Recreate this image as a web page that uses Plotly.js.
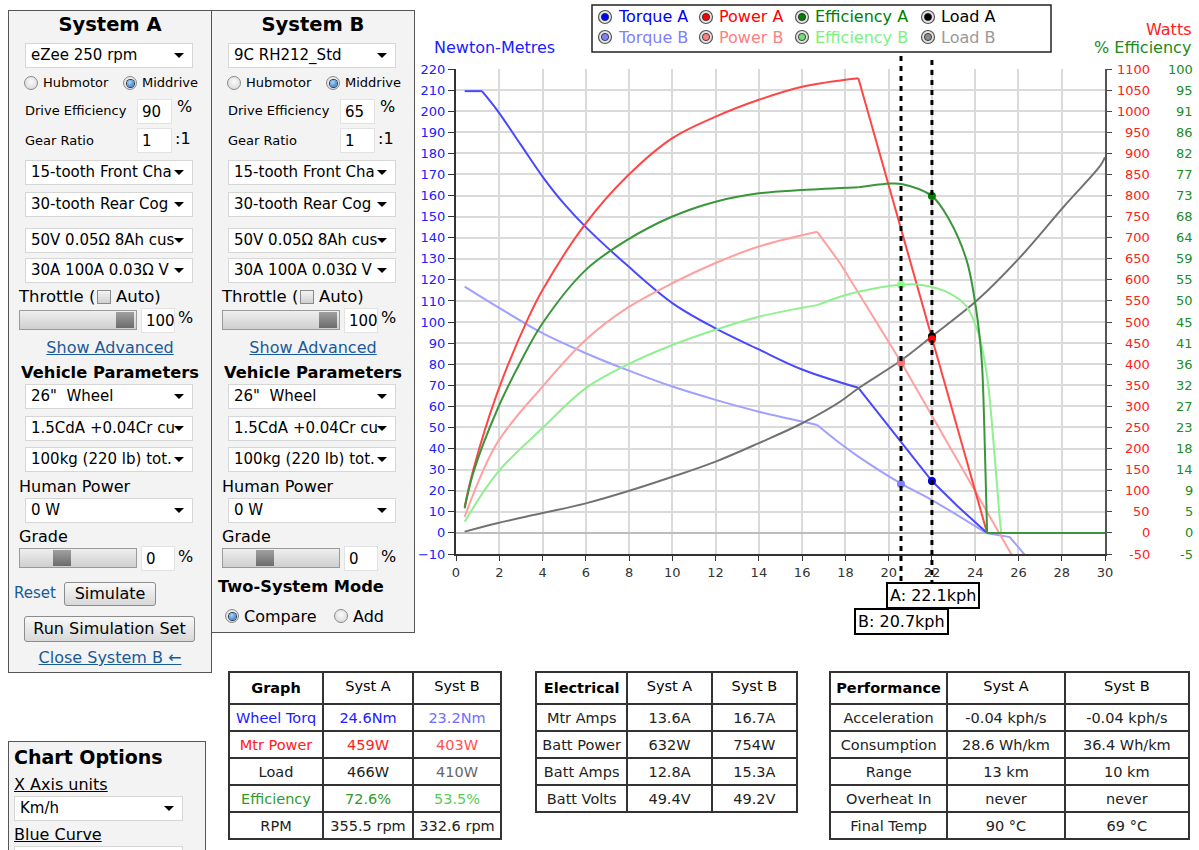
<!DOCTYPE html>
<html><head><meta charset="utf-8">
<script src="https://cdn.plot.ly/plotly-3.0.1.min.js"></script>
<style>
body{margin:0;background:#fff;font-family:'DejaVu Sans',Verdana,sans-serif;width:1199px;height:850px;overflow:hidden;position:relative;color:#000}
.t{position:absolute;white-space:nowrap;line-height:20px}
</style></head><body>
<div id="panels"></div>
<div id="chart" style="position:absolute;left:414px;top:0;width:785px;height:650px"></div>
<div id="tg" style="position:absolute;left:228px;top:671px;width:274px;height:180px"></div>
<div id="te" style="position:absolute;left:535px;top:671px;width:263px;height:150px"></div>
<div id="tp" style="position:absolute;left:829px;top:671px;width:361px;height:180px"></div>
<script>
// ---------------- DATA ----------------
const speedTorqueA=[0.4,1.2,1.9,3.0,4.0,5.0,6.0,7.9,10.0,12.0,14.0,16.0,18.6,20.5,22.0,23.2,24.55];
const torqueA=[209.5,209.5,200.5,184,169,156,145,127,109,97,87,77.5,68.8,44,24.6,12.5,0];
const speedTorqueB=[0.4,1.9,4.0,6.0,7.9,10.0,12.0,14.0,16.0,16.7,17.75,18.6,20.6,22.0,24.5,25.6,26.3];
const torqueB=[116.8,107.3,94.7,85.2,77.3,69.4,63.1,57.5,52.8,51.2,42.5,36.2,23.2,15.6,0,-2,-10.5];
const speedPowerA=[0.4,0.8,1.9,3.3,4.0,6.0,7.9,10.0,12.0,14.0,16.0,18.6,22.0,24.55];
const powerA=[62,150,331,505,576,734,845,936,987,1027,1058,1078,459,0];
const speedPowerB=[0.4,1.9,4.0,6.0,7.9,10.0,12.0,14.0,16.7,17.75,20.6,25.6,25.8];
const powerB=[38,213,347,458,533,592,640,679,714,640,403,-44,-62];
const speedEffA=[0.4,0.8,1.9,3.0,4.0,6.0,7.9,10.0,12.0,14.0,16.0,18.6,20.1,20.6,22.0,22.8,23.6,24.05,24.3,24.42,24.55,30];
const effA=[5.3,13,26.5,37,45.2,56.7,63.1,68.2,71.4,73.2,73.9,74.5,75.3,75.2,72.6,67.5,58.8,48,37.3,22.9,0,0];
const speedEffB=[0.4,1.9,4.0,6.0,7.9,10.0,12.0,14.0,16.7,17.75,18.6,20.6,21.6,22.8,23.6,24.15,24.55,24.85,25.1,25.2,30];
const effB=[2.4,12.9,22.6,31.2,36.2,40.5,43.8,46.6,49.1,50.9,52,53.5,53.4,51.7,48.8,43,33.7,19.3,5,0,0];
const speedLoad=[0.4,1.9,4.0,6.0,7.9,10.0,12.0,14.0,16.0,17.75,18.6,20.6,22.0,24.1,26.1,28.1,29.8,30];
const loadW=[3,23,47,70,98,133,169,213,260,311,343,410,466,552,655,774,872,891];

const opSpeed=[22.0,20.57];            // operating points A, B (positions on chart)
const opLabel=['A: 22.1kph','B: 20.7kph'];
const opTorque=[24.6,23.2];
const opPower=[459,403];
const opLoad=[466,410];
const opEff=[72.6,53.5];

const wattTicks=[1100,1050,1000,950,900,850,800,750,700,650,600,550,500,450,400,350,300,250,200,150,100,50,0,-50];
const effTickText=['100','95','91','86','82','77','73','68','64','59','55','50','45','41','36','32','27','23','18','14','9','5','0','-5'];

const legendNames=[['Torque A','Power A','Efficiency A','Load A'],['Torque B','Power B','Efficiency B','Load B']];

const graphHeader=['<b>Graph</b>','Syst A','Syst B'];
const graphRows=['Wheel Torq','Mtr Power','Load','Efficiency','RPM'];
const graphA=['24.6Nm','459W','466W','72.6%','355.5 rpm'];
const graphB=['23.2Nm','403W','410W','53.5%','332.6 rpm'];
const elecHeader=['<b>Electrical</b>','Syst A','Syst B'];
const elecRows=['Mtr Amps','Batt Power','Batt Amps','Batt Volts'];
const elecA=['13.6A','632W','12.8A','49.4V'];
const elecB=['16.7A','754W','15.3A','49.2V'];
const perfHeader=['<b>Performance</b>','Syst A','Syst B'];
const perfRows=['Acceleration','Consumption','Range','Overheat In','Final Temp'];
const perfA=['-0.04 kph/s','28.6 Wh/km','13 km','never','90 °C'];
const perfB=['-0.04 kph/s','36.4 Wh/km','10 km','never','69 °C'];

// ---------------- HTML side panels ----------------
const F="'DejaVu Sans', Verdana, sans-serif";
const P=document.getElementById('panels');
function box(x,y,w,h,css,html){const d=document.createElement('div');d.style.cssText='position:absolute;left:'+x+'px;top:'+y+'px;width:'+w+'px;height:'+h+'px;box-sizing:border-box;'+(css||'');if(html)d.innerHTML=html;P.appendChild(d);return d;}
function txt(x,yc,s,css,c){const d=document.createElement('div');d.className='t';d.style.cssText='top:'+(yc-10)+'px;left:'+x+'px;'+(c?'transform:translateX(-50%);':'')+(css||'');d.innerHTML=s;P.appendChild(d);return d;}
function sel(x,y,w,s){box(x,y,w,25,'background:#fff;border:1px solid #d6d6d6;','<div style="position:absolute;left:5px;top:1px;white-space:nowrap;font-size:15px;line-height:21px">'+s+'</div><div style="position:absolute;right:8px;top:9px;width:0;height:0;border-left:5px solid transparent;border-right:5px solid transparent;border-top:5px solid #000"></div>');}
function radio(cx,cy,on){box(cx-7,cy-7,14,14,'border-radius:50%;border:1px solid #8a8a8a;background:radial-gradient(circle at 50% 40%,#fbfbfb,#d2d2d2);',on?'<div style="position:absolute;left:2.5px;top:2.5px;width:7px;height:7px;border-radius:50%;background:radial-gradient(circle at 40% 35%,#a8d8ff,#1565c0);box-shadow:0 0 0 1px #2a3a4c"></div>':'');}
function input(x,y,w,s){box(x,y,w,25,'background:#fff;border:1px solid #e2e2e2;','<div style="position:absolute;left:4px;top:2px;font-size:15px;line-height:20px">'+s+'</div>');}
function slider(x,y,w,tx){box(x,y,w,20,'border:1px solid #9a9a9a;background:linear-gradient(#efefef,#cfcfcf);');box(tx,y+2,18,16,'background:linear-gradient(#a0a0a0,#6c6c6c);');}
function button(x,y,w,h,s){box(x,y,w,h,'border:1px solid #8c8c8c;border-radius:3px;background:linear-gradient(#f8f8f8,#d8d8d8);font-size:16px;line-height:'+(h-2)+'px;text-align:center;white-space:nowrap;',s);}
function checkbox(x,y){box(x,y,14,14,'border:1px solid #8a8a8a;background:linear-gradient(#f4f4f4,#d0d0d0);');}

function panel(ox,cfg){
  box(8+ox,10,204,cfg.h,'border:1px solid #555;background:#f3f3f3;');
  txt(110+ox,25,cfg.title,'font-weight:bold;font-size:19.5px',true);
  sel(25+ox,43,168,cfg.motor);
  radio(31+ox,83,false);txt(43+ox,83,'Hubmotor','font-size:13px');
  radio(130+ox,83,true);txt(142+ox,83,'Middrive','font-size:13px');
  txt(25+ox,111,'Drive Efficiency','font-size:13px');input(137+ox,99,35,cfg.eff);txt(177+ox,107,'%','font-size:16px');
  txt(25+ox,141,'Gear Ratio','font-size:13px');input(137+ox,128,35,'1');txt(175+ox,139,':1','font-size:16px');
  sel(25+ox,160,168,'15-tooth Front Cha');
  sel(25+ox,192,168,'30-tooth Rear Cog');
  sel(25+ox,228,168,'50V 0.05Ω 8Ah cus');
  sel(25+ox,258,168,'30A 100A 0.03Ω V');
  txt(19+ox,297,'Throttle (','font-size:16.5px');checkbox(97+ox,290);txt(116+ox,297,'Auto)','font-size:16.5px');
  slider(19+ox,310,118,116+ox);input(141+ox,308,34,'100');txt(178+ox,318,'%','font-size:16px');
  txt(110+ox,348,'Show Advanced','font-size:16px;color:#1a5a96;text-decoration:underline',true);
  txt(110+ox,373,'Vehicle Parameters','font-weight:bold;font-size:16.3px',true);
  sel(25+ox,384,168,'26"&nbsp; Wheel');
  sel(25+ox,416,168,'1.5CdA +0.04Cr cu');
  sel(25+ox,447,168,'100kg (220 lb) tot.');
  txt(19+ox,487,'Human Power','font-size:16px');
  sel(25+ox,498,168,'0 W');
  txt(19+ox,537,'Grade','font-size:16px');
  slider(19+ox,548,118,53+ox);input(141+ox,546,34,'0');txt(178+ox,557,'%','font-size:16px');
}
panel(0,{h:663,title:'System A',motor:'eZee 250 rpm',eff:'90'});
panel(203,{h:623,title:'System B',motor:'9C RH212_Std',eff:'65'});
txt(14,593,'Reset','font-size:15px;color:#1a5a96');
button(64,582,92,24,'Simulate');
button(24,616,171,26,'Run Simulation Set');
txt(110,658,'Close System B ←','font-size:16px;color:#1a5a96;text-decoration:underline',true);
txt(218,587,'Two-System Mode','font-weight:bold;font-size:16.3px');
radio(232,616,true);txt(244,617,'Compare','font-size:16px');
radio(341,616,false);txt(353,617,'Add','font-size:16px');
// chart options panel
box(8,741,198,130,'border:1px solid #555;background:#f3f3f3;');
txt(14,757,'Chart Options','font-weight:bold;font-size:19px');
txt(14,785,'X Axis units','font-size:16px;text-decoration:underline');
sel(14,796,169,'Km/h');
txt(14,835,'Blue Curve','font-size:16px;text-decoration:underline');
sel(14,846,169,'');

// ---------------- Chart ----------------
const L=456,R=1105,T=69,B=554;
const px=v=>(v-L)/(R-L), py=v=>(B-v)/(B-T);
// one series may be drawn in pieces: smooth (spline) pieces and straight pieces between kinks
function series(xs,ys,pieces,color,ax,w){
  return pieces.map(([i0,i1,shape])=>({type:'scatter',mode:'lines',x:xs.slice(i0,i1+1),y:ys.slice(i0,i1+1),yaxis:ax,
    line:{color:color,width:w||2,shape:shape,smoothing:1},hoverinfo:'skip',showlegend:false}));
}
const mk=(x,y,color,ax)=>({type:'scatter',mode:'markers',x:[x],y:[y],yaxis:ax,marker:{color:color,size:8},hoverinfo:'skip',showlegend:false});
const data=[].concat(
  series(speedLoad,loadW,[[0,17,'spline']],'#8c8c8c','y2',2),
  series(speedTorqueB,torqueB,[[0,9,'spline'],[9,14,'spline'],[14,16,'linear']],'#a0a0ff','y',2),
  series(speedPowerB,powerB,[[0,8,'spline'],[8,12,'linear']],'#ffa0a0','y2',2),
  series(speedEffB,effB,[[0,8,'spline'],[8,19,'spline'],[19,20,'linear']],'#90f090','y3',2),
  series(speedLoad,loadW,[[0,17,'spline']],'rgba(60,60,60,0.35)','y2',1.5),
  series(speedTorqueA,torqueA,[[0,1,'linear'],[1,12,'spline'],[12,16,'linear']],'#4848ff','y',2),
  series(speedPowerA,powerA,[[0,11,'spline'],[11,13,'linear']],'#ff4646','y2',2),
  series(speedEffA,effA,[[0,11,'spline'],[11,20,'spline'],[20,21,'linear']],'#3a963a','y3',2),
  [mk(opSpeed[1],opTorque[1],'#8080ff','y'),
  mk(opSpeed[1],opEff[1],'#80ff80','y3'),
  mk(opSpeed[1],opLoad[1],'#999999','y2'),
  mk(opSpeed[1],opPower[1],'#ff7070','y2'),
  mk(opSpeed[0],opTorque[0],'#0000ff','y'),
  mk(opSpeed[0],opEff[0],'#008000','y3'),
  mk(opSpeed[0],opLoad[0],'#000000','y2'),
  mk(opSpeed[0],opPower[0],'#ff0000','y2')]
);
const ann=[], shp=[];
ann.push({xref:'paper',yref:'paper',x:px(432),y:py(48),xanchor:'left',yanchor:'middle',text:'Newton-Metres',showarrow:false,font:{family:F,size:16,color:'#2020ff'}});
ann.push({xref:'paper',yref:'paper',x:px(1193),y:py(29),xanchor:'right',yanchor:'middle',text:'Watts',showarrow:false,font:{family:F,size:16,color:'#ff2020'}});
ann.push({xref:'paper',yref:'paper',x:px(1193),y:py(48),xanchor:'right',yanchor:'middle',text:'% Efficiency',showarrow:false,font:{family:F,size:16,color:'#208a20'}});
wattTicks.forEach((w,i)=>{
  ann.push({xref:'paper',yref:'y2',x:px(1152),y:w,xanchor:'right',yanchor:'middle',text:String(w),showarrow:false,font:{family:F,size:13,color:'#ff2020'}});
  ann.push({xref:'paper',yref:'y2',x:px(1195),y:w,xanchor:'right',yanchor:'middle',text:effTickText[i],showarrow:false,font:{family:F,size:13,color:'#228b22'}});
});
// legend box
shp.push({type:'rect',xref:'paper',yref:'paper',x0:px(592),x1:px(1051),y0:py(52),y1:py(5),line:{color:'#222',width:1.5},fillcolor:'#fff',layer:'above'});
const legX=[605,706,802,928], legY=[17,37];
const legText=[['#0000ff','#ff0000','#008000','#000000'],['#8080ff','#ff8080','#7ef07e','#999999']];
const legDot=[['#0000ff','#ff0000','#008000','#000000'],['#8080ff','#ff8080','#70e070','#8a8a8a']];
legendNames.forEach((row,r)=>row.forEach((nm,c)=>{
  shp.push({type:'circle',xref:'paper',yref:'paper',xsizemode:'pixel',ysizemode:'pixel',xanchor:px(legX[c]),yanchor:py(legY[r]),x0:-6.5,x1:6.5,y0:-6.5,y1:6.5,line:{color:'#555',width:1.2},fillcolor:'#e4e4e4',layer:'above'});
  shp.push({type:'circle',xref:'paper',yref:'paper',xsizemode:'pixel',ysizemode:'pixel',xanchor:px(legX[c]),yanchor:py(legY[r]),x0:-3.6,x1:3.6,y0:-3.6,y1:3.6,line:{color:'#222',width:0.8},fillcolor:legDot[r][c],layer:'above'});
  ann.push({xref:'paper',yref:'paper',x:px(legX[c]+11),y:py(legY[r]),xanchor:'left',yanchor:'middle',text:nm,showarrow:false,font:{family:F,size:16,color:legText[r][c]}});
}));
// operating-point dashed lines & labels
const lineBottom=[585,611], labelY=[595,621];
opSpeed.forEach((s,i)=>{
  shp.push({type:'line',xref:'x',yref:'paper',x0:s,x1:s,y0:py(lineBottom[i]),y1:py(56),line:{color:'#000',width:3,dash:'5px,5px'},layer:'above'});
});
opSpeed.forEach((s,i)=>{
  ann.push({xref:'x',yref:'paper',x:s+(i===0?0.05:0),y:py(labelY[i]),xanchor:'center',yanchor:'middle',text:opLabel[i],showarrow:false,bgcolor:'#fff',bordercolor:'#000',borderwidth:2,borderpad:2,font:{family:F,size:16,color:'#000'}});
});
const layout={
  width:785,height:650,margin:{l:42,r:94,t:69,b:96},paper_bgcolor:'rgba(0,0,0,0)',plot_bgcolor:'#fff',showlegend:false,
  font:{family:F},
  xaxis:{range:[0,30],tick0:0,dtick:2,showgrid:true,gridcolor:'#dadada',gridwidth:2,zeroline:false,showline:true,linecolor:'#333',linewidth:2,ticks:'outside',ticklen:5,tickcolor:'#333',tickfont:{family:F,size:13,color:'#333'},automargin:false,fixedrange:true},
  yaxis:{range:[-10,220],tick0:0,dtick:10,showgrid:true,gridcolor:'#dadada',gridwidth:2,zeroline:true,zerolinecolor:'#bdbdbd',zerolinewidth:2,showline:true,linecolor:'#333',linewidth:2,ticks:'outside',ticklen:6,tickcolor:'#333',tickfont:{family:F,size:13,color:'#2020ff'},automargin:false,fixedrange:true},
  yaxis2:{overlaying:'y',side:'right',range:[-50,1100],tick0:0,dtick:50,showgrid:false,zeroline:false,showticklabels:false,showline:true,linecolor:'#555',linewidth:1.5,ticks:'outside',ticklen:5,tickcolor:'#444',automargin:false,fixedrange:true},
  yaxis3:{overlaying:'y',side:'right',range:[-50/11,100],visible:false,fixedrange:true},
  shapes:shp,annotations:ann
};
Plotly.newPlot('chart',data,layout,{staticPlot:true});

// ---------------- Tables ----------------
const nb=a=>a.map(s=>s.replace(/ /g,'\u00a0'));
function table(id,w,h,header,cols,colW,colors){
  Plotly.newPlot(id,[{type:'table',columnwidth:colW,
    header:{values:header,height:27,align:'center',line:{color:'#333',width:2},fill:{color:'#fff'},font:{family:F,size:14.5,color:'#000'}},
    cells:{values:cols.map(nb),height:27,align:'center',line:{color:'#333',width:2},fill:{color:'#fff'},font:{family:F,size:14.5,color:colors}}
  }],{width:w,height:h,margin:{l:1,r:1,t:1,b:1},paper_bgcolor:'rgba(0,0,0,0)'},{staticPlot:true});
}
table('tg',274,180,graphHeader,[graphRows,graphA,graphB],[94,90,88],
  [['#2020ff','#ff2020','#222','#2f9a2f','#222'],['#2020ff','#ff2020','#222','#2f9a2f','#222'],['#7070ff','#ff5050','#666','#55cc55','#222']]);
table('te',263,150,elecHeader,[elecRows,elecA,elecB],[91,84,85],'#222');
table('tp',361,180,perfHeader,[perfRows,perfA,perfB],[117,117,124],'#222');
</script></body></html>
